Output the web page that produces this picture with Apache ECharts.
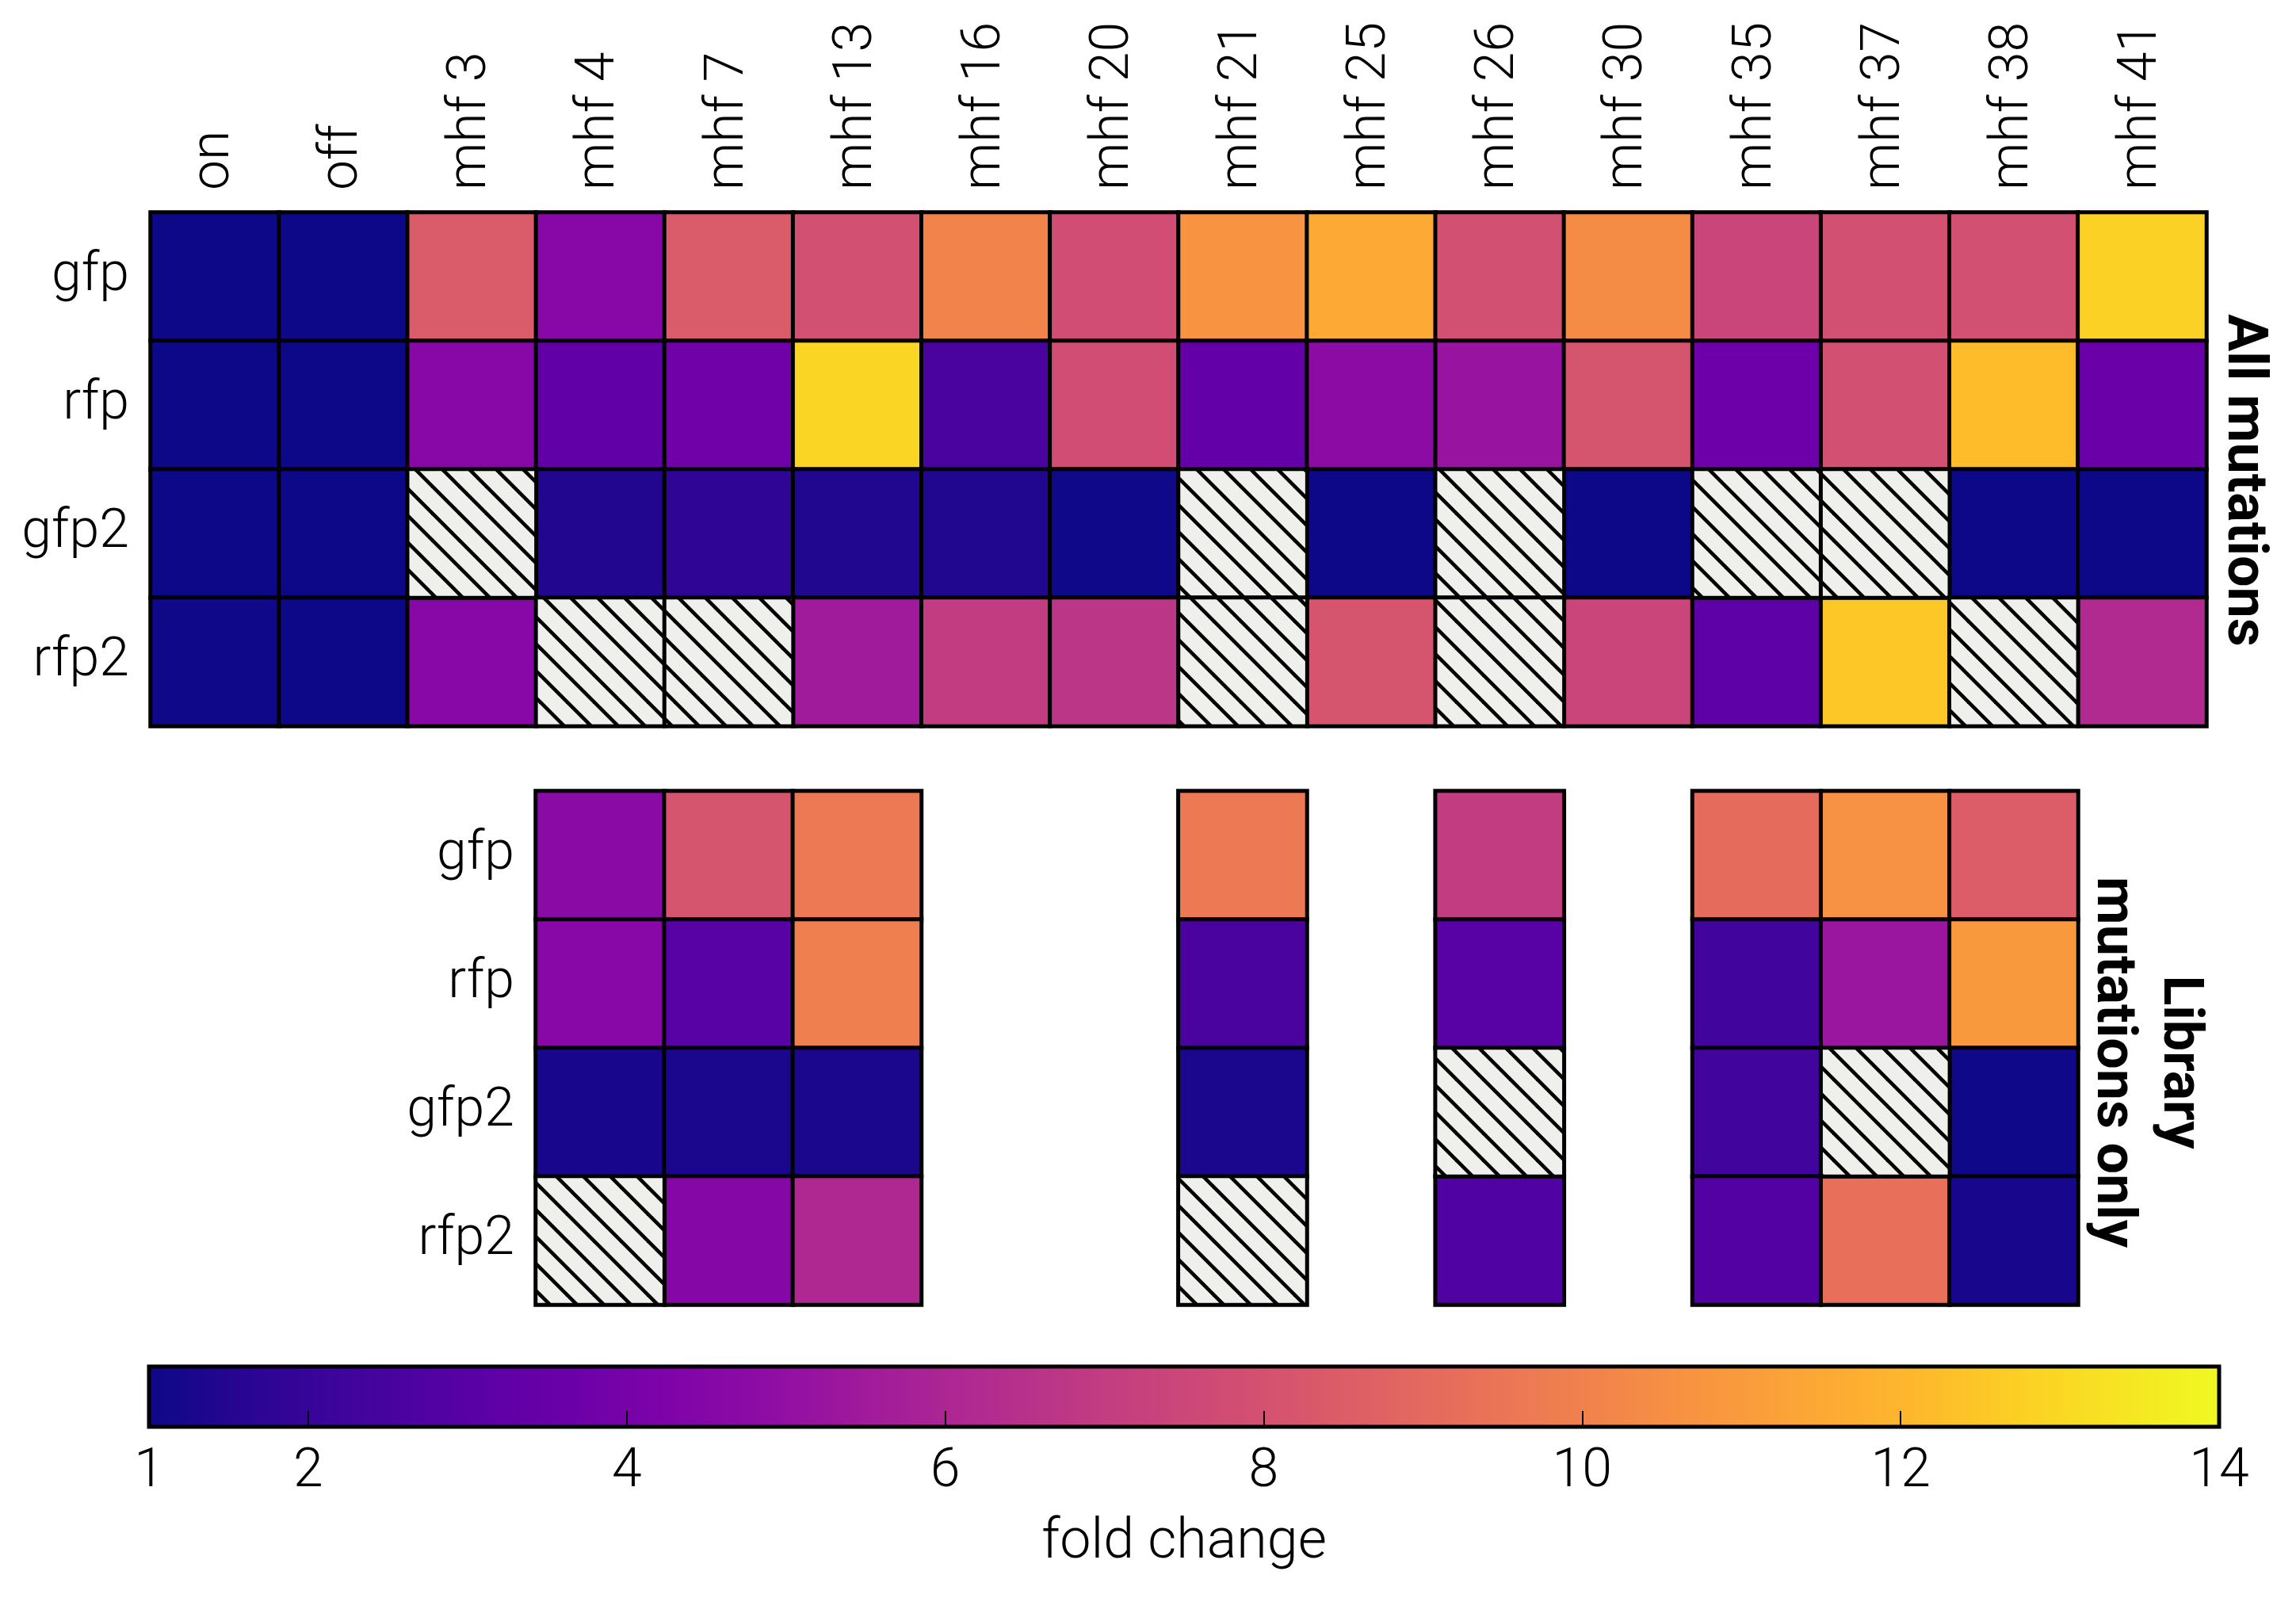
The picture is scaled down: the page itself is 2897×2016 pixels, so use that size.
<!DOCTYPE html>
<html><head><meta charset="utf-8">
<script src="https://cdn.jsdelivr.net/npm/echarts@6/dist/echarts.min.js"></script>
<style>html,body{margin:0;padding:0;background:#fff}#c{width:2897px;height:2016px}</style>
</head><body><div id="c"></div>
<script>
// ---------- data ----------
const columns = ['on','off','mhf 3','mhf 4','mhf 7','mhf 13','mhf 16','mhf 20','mhf 21','mhf 25','mhf 26','mhf 30','mhf 35','mhf 37','mhf 38','mhf 41'];
const rows = ['gfp','rfp','gfp2','rfp2'];
// All mutations (NaN = no measurement, hatched)
const allGfp  = [1.0, 1.0, 8.4, 4.6, 8.4, 7.9, 10.1, 7.8, 10.7, 11.5, 7.9, 10.4, 7.4, 7.9, 7.9, 12.8];
const allRfp  = [1.0, 1.0, 4.6, 3.3, 3.8, 12.9, 2.6, 7.8, 3.4, 4.8, 5.2, 8.1, 3.7, 7.9, 12.2, 3.6];
const allGfp2 = [1.0, 1.0, NaN, 1.5, 1.8, 1.45, 1.45, 1.05, NaN, 1.0, NaN, 1.0, NaN, NaN, 1.0, 1.0];
const allRfp2 = [1.05, 1.0, 4.6, NaN, NaN, 5.5, 7.0, 6.7, NaN, 8.1, NaN, 7.4, 3.2, 12.5, NaN, 6.2];
// Library mutations only
const libAxis = ['mhf 4','mhf 7','mhf 13','mhf 16','mhf 20','mhf 21','mhf 25','mhf 26','mhf 30','mhf 35','mhf 37','mhf 38'];
const libColumns = ['mhf 4','mhf 7','mhf 13','mhf 21','mhf 26','mhf 35','mhf 37','mhf 38'];
const libGfp  = [4.7, 8.1, 9.6, 9.6, 7.0, 9.1, 10.6, 8.5];
const libRfp  = [4.6, 3.0, 9.9, 2.6, 3.0, 2.3, 5.3, 10.9];
const libGfp2 = [1.25, 1.3, 1.3, 1.3, NaN, 2.3, NaN, 1.05];
const libRfp2 = [NaN, 4.5, 6.1, NaN, 2.8, 2.9, 9.3, 1.25];
// colour bar
const cbRange = [1, 14];
const cbTicks = [2, 4, 6, 8, 10, 12];
const cbLabels = [1, 2, 4, 6, 8, 10, 12, 14];
const plasma = ['#0d0887','#2a0593','#41049d','#5601a4','#6a00a8','#7e03a8','#8f0da4','#a11b9b','#b12a90','#bf3984','#cc4778','#d6556d','#e16462','#ea7457','#f2844b','#f89540','#fca636','#feb72d','#fcce25','#f6e423','#f0f921'];

// ---------- build ----------
function build(rowArrays, cols) {
  const vals = [], hatch = [];
  rowArrays.forEach((arr, r) => arr.forEach((v, c) => {
    if (v === null || v === undefined) return;
    if (isNaN(v)) hatch.push([cols[c], rows[r], 0]);
    else vals.push([cols[c], rows[r], v]);
  }));
  return {vals, hatch};
}
const allData = build([allGfp, allRfp, allGfp2, allRfp2], columns);
const libData = build([libGfp, libRfp, libGfp2, libRfp2], libColumns);

const HS = 34;
const hc = document.createElement('canvas');
hc.width = HS; hc.height = HS;
const g = hc.getContext('2d');
g.fillStyle = '#efefec'; g.fillRect(0, 0, HS, HS);
g.strokeStyle = '#000'; g.lineWidth = 4.6;
for (const k of [-1, 0, 1]) { g.beginPath(); g.moveTo(k*HS - 6, -6); g.lineTo(k*HS + HS + 6, HS + 6); g.stroke(); }
const hatchFill = {image: hc, repeat: 'repeat'};

const FONT = 'Roboto';
const lab = {fontFamily: FONT, fontWeight: 300, fontSize: 68, color: '#000'};
const cellStyle = {borderColor: '#000', borderWidth: 5};

const chart = echarts.init(document.getElementById('c'), null, {renderer: 'canvas'});
chart.setOption({
  animation: false,
  backgroundColor: '#fff',
  grid: [
    {left: 190, top: 268, width: 2594, height: 648},
    {left: 676, top: 998, width: 1946, height: 648},
    {left: 188, top: 1724, width: 2612, height: 76}
  ],
  xAxis: [
    {type: 'category', data: columns, gridIndex: 0, position: 'top',
     axisLine: {show: false}, axisTick: {show: false}, splitLine: {show: false},
     axisLabel: Object.assign({rotate: -90, margin: 28, interval: 0}, lab)},
    {type: 'category', data: libAxis, gridIndex: 1,
     axisLine: {show: false}, axisTick: {show: false}, axisLabel: {show: false}},
    {type: 'value', gridIndex: 2, min: cbRange[0], max: cbRange[1], position: 'bottom', z: 10,
     axisLine: {show: false}, splitLine: {show: false},
     axisTick: {show: true, inside: true, length: 20, lineStyle: {color: '#000', width: 2}, customValues: cbTicks},
     axisLabel: Object.assign({margin: 24, customValues: cbLabels, showMinLabel: true, showMaxLabel: true}, lab),
     name: 'fold change', nameLocation: 'middle', nameGap: 112,
     nameTextStyle: {fontFamily: FONT, fontWeight: 300, fontSize: 70, color: '#000'}}
  ],
  yAxis: [
    {type: 'category', data: rows, gridIndex: 0, inverse: true,
     axisLine: {show: false}, axisTick: {show: false},
     axisLabel: Object.assign({margin: 27, interval: 0}, lab)},
    {type: 'category', data: rows, gridIndex: 1, inverse: true,
     axisLine: {show: false}, axisTick: {show: false},
     axisLabel: Object.assign({margin: 27, interval: 0}, lab)},
    {type: 'value', gridIndex: 2, min: 0, max: 1, show: false}
  ],
  visualMap: {type: 'continuous', show: false, min: cbRange[0], max: cbRange[1], dimension: 2,
    seriesIndex: [0, 2], inRange: {color: plasma}},
  series: [
    {type: 'heatmap', xAxisIndex: 0, yAxisIndex: 0, data: allData.vals, itemStyle: cellStyle, emphasis: {disabled: true}},
    {type: 'heatmap', xAxisIndex: 0, yAxisIndex: 0, data: allData.hatch, itemStyle: Object.assign({color: hatchFill}, cellStyle), emphasis: {disabled: true}},
    {type: 'heatmap', xAxisIndex: 1, yAxisIndex: 1, data: libData.vals, itemStyle: cellStyle, emphasis: {disabled: true}},
    {type: 'heatmap', xAxisIndex: 1, yAxisIndex: 1, data: libData.hatch, itemStyle: Object.assign({color: hatchFill}, cellStyle), emphasis: {disabled: true}},
    {type: 'custom', xAxisIndex: 2, yAxisIndex: 2, z: 2, data: [[cbRange[0], cbRange[1]]],
     renderItem: function (params, api) {
       const p0 = api.coord([api.value(0), 0]);
       const p1 = api.coord([api.value(1), 1]);
       const stops = plasma.map((c, i) => ({offset: i / (plasma.length - 1), color: c}));
       return {type: 'rect', shape: {x: p0[0], y: p1[1], width: p1[0] - p0[0], height: p0[1] - p1[1]},
         style: {fill: new echarts.graphic.LinearGradient(0, 0, 1, 0, stops), stroke: '#000', lineWidth: 5}};
     }}
  ],
  graphic: [
    {type: 'text', x: 2829, y: 606, rotation: -Math.PI / 2,
     style: {text: 'All mutations', font: 'bold 70px Roboto', fill: '#000', align: 'center', verticalAlign: 'middle'}},
    {type: 'text', x: 2706, y: 1340, rotation: -Math.PI / 2,
     style: {text: 'Library\nmutations only', font: 'bold 70px Roboto', lineHeight: 84, fill: '#000', align: 'center', verticalAlign: 'middle'}}
  ]
});
</script></body></html>
